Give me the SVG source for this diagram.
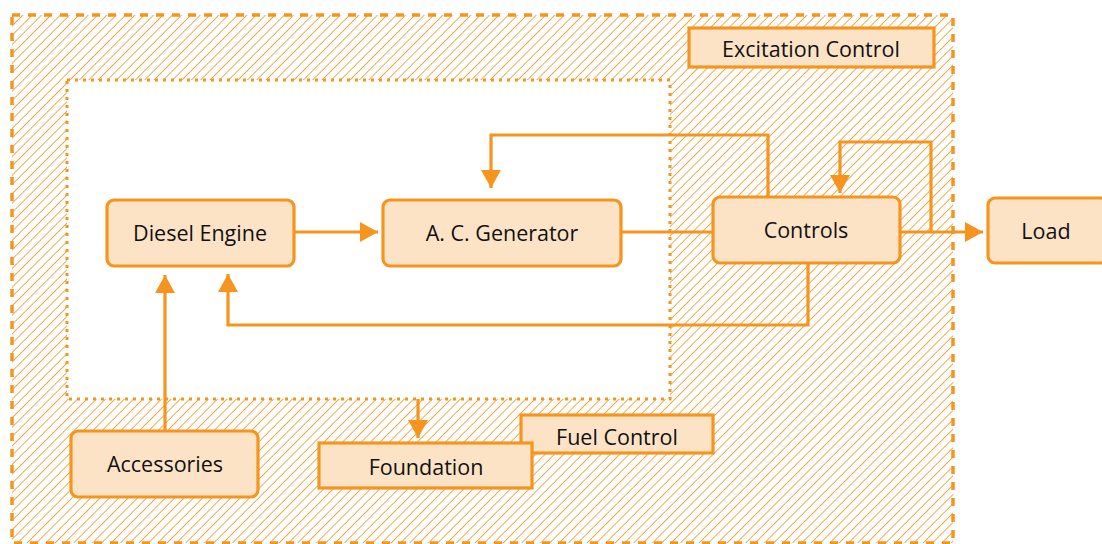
<svg xmlns="http://www.w3.org/2000/svg" width="1102" height="544" viewBox="0 0 1102 544">
<defs>
<pattern id="hatch" patternUnits="userSpaceOnUse" width="6.6" height="6.6" patternTransform="rotate(45)">
<line x1="0" y1="0" x2="0" y2="6.6" stroke="#F7941D" stroke-width="1.6"/>
</pattern>
<marker id="arr" viewBox="0 0 18 20" refX="18" refY="10" markerWidth="18" markerHeight="20" markerUnits="userSpaceOnUse" orient="auto">
<path d="M0,0 L18,10 L0,20 Z" fill="#F7941D"/>
</marker>
<style>
.node rect{fill:#FDE3C6;stroke:#F7941D;stroke-width:3.2}
.node text{font-family:"Open Sans","Noto Sans",sans-serif;font-size:21.5px;fill:#111;text-anchor:middle;dominant-baseline:central}
.conn path{fill:none;stroke:#F7941D;stroke-width:3.2}
</style>
</defs>
<g id="background">
<rect x="12" y="15" width="941" height="528" fill="url(#hatch)"/>
<rect x="67" y="80" width="603" height="319" fill="#fff"/>
<rect x="12" y="15" width="941" height="528" fill="none" stroke="#F7941D" stroke-width="3.5" stroke-dasharray="8 8"/>
<rect x="67" y="80" width="603" height="319" fill="none" stroke="#F7941D" stroke-width="3" stroke-dasharray="3 5"/>
</g>
<g class="conn" id="connectors">
<path d="M294,232 H378" marker-end="url(#arr)"/>
<path d="M621,232 H713"/>
<path d="M768,197 V135 H491 V188" marker-end="url(#arr)"/>
<path d="M900,232 H983" marker-end="url(#arr)"/>
<path d="M931,232 V142 H840 V193" marker-end="url(#arr)"/>
<path d="M808,263 V325 H228 V274" marker-end="url(#arr)"/>
<path d="M165,431 V275" marker-end="url(#arr)"/>
<path d="M418,399 V438" marker-end="url(#arr)"/>
</g>
<g class="node" id="excitation-control"><rect x="689" y="28" width="245" height="39"/><text x="811" y="48">Excitation Control</text></g>
<g class="node" id="diesel-engine"><rect x="107" y="200" width="187" height="66" rx="7"/><text x="200" y="232">Diesel Engine</text></g>
<g class="node" id="ac-generator"><rect x="383" y="200" width="238" height="66" rx="7"/><text x="502" y="232">A. C. Generator</text></g>
<g class="node" id="controls"><rect x="713" y="197" width="187" height="66" rx="7"/><text x="806" y="229">Controls</text></g>
<g class="node" id="load"><rect x="988" y="198" width="120" height="65" rx="7"/><text x="1046" y="230">Load</text></g>
<g class="node" id="accessories"><rect x="71" y="431" width="187" height="66" rx="7"/><text x="165" y="463">Accessories</text></g>
<g class="node" id="fuel-control"><rect x="521" y="415" width="192" height="38"/><text x="617" y="436">Fuel Control</text></g>
<g class="node" id="foundation"><rect x="319" y="443" width="213" height="45"/><text x="426" y="466">Foundation</text></g>
</svg>
